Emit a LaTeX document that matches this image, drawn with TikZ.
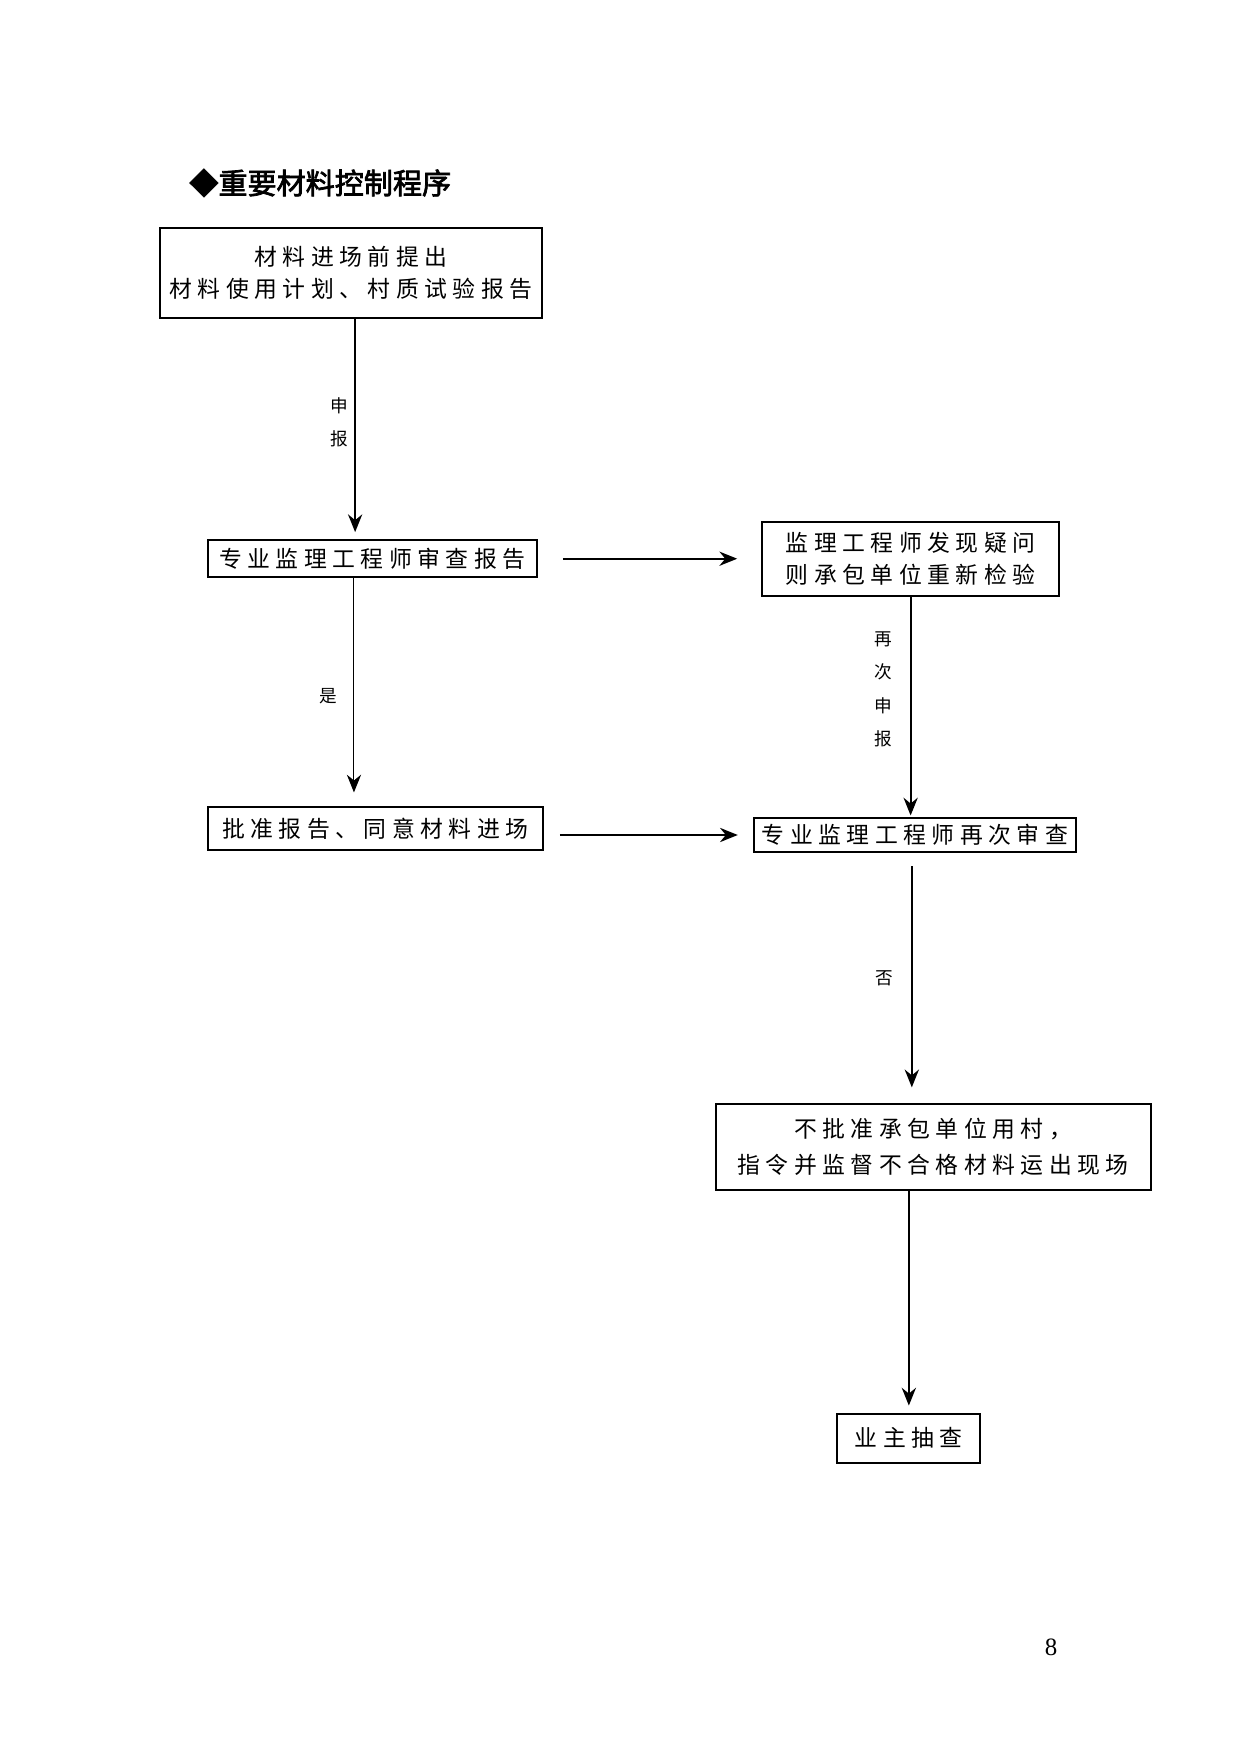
\documentclass[tikz,border=0pt]{standalone}
\usepackage{fontspec}
\setmainfont{Liberation Serif}
\newfontfamily\cjk[LetterSpace=24]{Noto Sans CJK SC}
\newfontfamily\cjkplain{Noto Sans CJK SC}
\newfontfamily\cjktitle[FakeBold=2.5]{Noto Sans CJK SC}
\usepackage{tikz}
\usetikzlibrary{arrows.meta,positioning}

\begin{document}
\begin{tikzpicture}[
    x=0.016922cm, y=-0.016922cm,
    box/.style={rectangle, draw, line width=0.95pt, inner sep=0pt, outer sep=0pt, align=center, font=\cjk\fontsize{11}{15.5}\selectfont},
    flow/.style={-{Stealth[length=0.3cm, width=0.24cm]}, line width=1.1pt},
    thinflow/.style={-{Stealth[length=0.3cm, width=0.24cm]}, line width=0.5pt},
    lbl/.style={inner sep=0pt, align=center, font=\cjkplain\fontsize{8.5}{16}\selectfont}
]
\useasboundingbox (0,0) rectangle (1241,1754);

\node[anchor=west, inner sep=0pt, font=\cjktitle\fontsize{14}{16}\selectfont] (title) at (189,183) {◆重要材料控制程序};

\node[box, minimum width=6.46cm, minimum height=1.52cm] (plan) at (351,273) {材料进场前提出\\材料使用计划、村质试验报告};
\node[box, minimum width=5.57cm, minimum height=0.63cm, below=3.76cm of plan, xshift=0.36cm] (review) {专业监理工程师审查报告};
\node[box, minimum width=5.03cm, minimum height=1.25cm, right=3.81cm of review] (doubt) {监理工程师发现疑问\\则承包单位重新检验};
\node[box, minimum width=5.67cm, minimum height=0.73cm, below=3.89cm of review, xshift=0.05cm] (approve) {批准报告、同意材料进场};
\node[box, minimum width=5.45cm, minimum height=0.56cm, below=3.77cm of doubt, xshift=0.07cm] (recheck) {专业监理工程师再次审查};
\node[box, minimum width=7.36cm, minimum height=1.44cm, below=4.28cm of recheck, xshift=0.31cm] (reject) {不批准承包单位用村，\\[2pt]指令并监督不合格材料运出现场};
\node[box, minimum width=2.42cm, minimum height=0.83cm, below=3.79cm of reject, xshift=-0.41cm] (owner) {业主抽查};

\coordinate (report) at ([xshift=0.07cm]plan.south);
\coordinate (yes) at ([xshift=-0.31cm]review.south);
\coordinate (no) at ([xshift=-0.05cm]recheck.south);

\draw[flow, shorten >=0.135cm] (report) -- (report |- review.north) node[lbl, pos=0.47, left=0.1cm] {申\\报};
\draw[flow, shorten <=0.44cm, shorten >=0.42cm] (review) -- (doubt);
\draw[thinflow, shorten >=0.25cm] (yes) -- (yes |- approve.north) node[lbl, pos=0.515, left=0.27cm] {是};
\draw[flow, shorten >=0.05cm] (doubt.south) -- (doubt.south |- recheck.north) node[lbl, pos=0.42, left=0.3cm] {再\\次\\申\\报};
\draw[flow, shorten <=0.29cm, shorten >=0.27cm] (recheck.west -| approve.east) -- (recheck.west);
\draw[flow, shorten <=0.25cm, shorten >=0.29cm] (no) -- (no |- reject.north) node[lbl, pos=0.5, left=0.3cm] {否};
\draw[flow, shorten >=0.135cm] (owner.north |- reject.south) -- (owner.north);

\node[font=\fontsize{12}{14}\selectfont] (pagenum) at (1051,1647) {8};

\end{tikzpicture}
\end{document}
